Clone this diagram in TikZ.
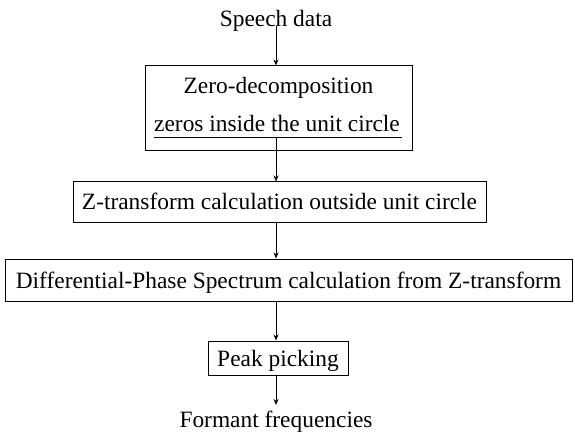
\documentclass[tikz,border=0pt]{standalone}
\usepackage{fontspec}
\setmainfont{Liberation Serif}
\usetikzlibrary{arrows.meta}
\tikzset{
  box/.style={draw, line width=1pt, inner sep=0pt},
  lbl/.style={inner sep=0pt, anchor=base, font=\fontsize{23.4}{28}\selectfont},
  arr/.style={line width=1pt, -{Stealth[length=6pt,width=5pt]}},
}
\begin{document}
\begin{tikzpicture}[x=1pt,y=-1pt]
\useasboundingbox (0,0) rectangle (575,438);

% input
\node[lbl] (speech) at (276,27) {Speech data};

% zero decomposition block
\node[box, minimum width=267pt, minimum height=85pt] (zd) at (278.5,108.5) {};
\node[lbl] (zdA) at (278.5,94) {Zero-decomposition};
\node[lbl] (zdB) at (277,132) {zeros inside the unit circle};
\draw[line width=1pt] (154,138) -- (402,138);
\coordinate (zdout) at (276,138);

% z-transform block
\node[box, minimum width=413pt, minimum height=41pt] (zt) at (279.5,202.5) {};
\node[lbl] at (279.5,210) {Z-transform calculation outside unit circle};

% differential phase block
\node[box, minimum width=567pt, minimum height=42pt] (dp) at (288.5,280) {};
\node[lbl] at (288.5,288) {Differential-Phase Spectrum calculation from Z-transform};

% peak picking block
\node[box, minimum width=140pt, minimum height=34pt] (pp) at (278,358) {};
\node[lbl] at (278,366) {Peak picking};

% output
\node[lbl] (ff) at (276,427) {Formant frequencies};
\coordinate (ffin) at (276,405);

% connectors
\draw[arr] (speech.south) ++(0,-6) -- (speech.south |- zd.north);
\draw[arr] (zdout) -- (zdout |- zt.north);
\draw[arr] (zdout |- zt.south) -- (zdout |- dp.north);
\draw[arr] (zdout |- dp.south) -- (zdout |- pp.north);
\draw[arr] (zdout |- pp.south) -- (ffin);
\end{tikzpicture}
\end{document}
